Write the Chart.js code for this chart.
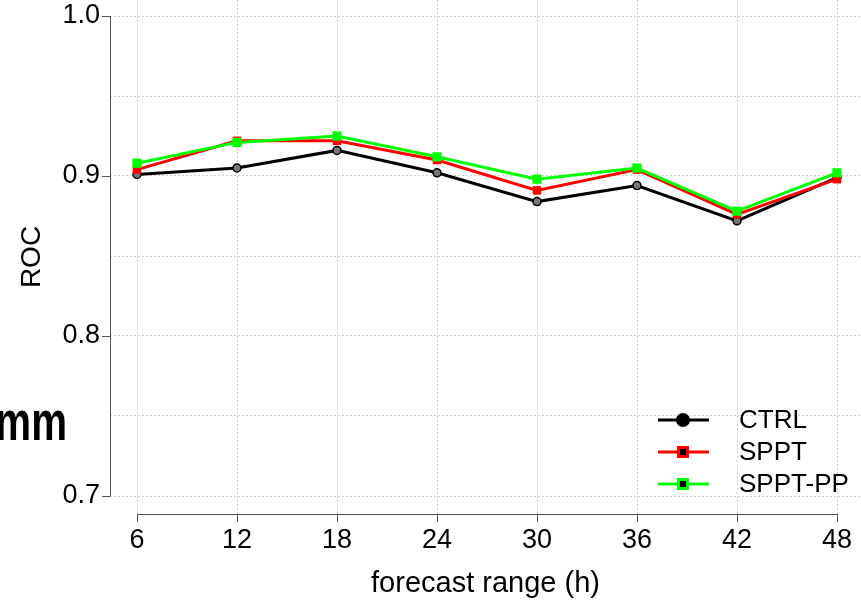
<!DOCTYPE html>
<html>
<head>
<meta charset="utf-8">
<script src="https://cdn.jsdelivr.net/npm/chart.js@4"></script>
<style>
html, body { margin: 0; padding: 0; background: #fff; overflow: hidden; }
canvas { display: block; }
</style>
</head>
<body>
<canvas id="chartRoc" width="861" height="601"></canvas>
<script>
// forecast range (h)
const hours = [6, 12, 18, 24, 30, 36, 42, 48];
const ctrl = [0.901, 0.905, 0.916, 0.902, 0.884, 0.894, 0.872, 0.899];
const sppt = [0.904, 0.922, 0.922, 0.910, 0.891, 0.904, 0.876, 0.898];
const spptPP = [0.908, 0.921, 0.925, 0.912, 0.898, 0.905, 0.878, 0.902];
const yTicks = [0.7, 0.75, 0.8, 0.85, 0.9, 0.95, 1.0];
const yLabelled = [0.7, 0.8, 0.9, 1.0];

const FONT = 'Liberation Sans, Arial, Helvetica, sans-serif';

function pts(vals) {
  return hours.map((h, i) => ({ x: h, y: vals[i] }));
}

// R-style axes: separate axis lines with outward ticks
const rAxes = {
  id: 'rAxes',
  afterDatasetsDraw(chart) {
    const ctx = chart.ctx;
    const xs = chart.scales.x, ys = chart.scales.y;
    ctx.save();
    ctx.strokeStyle = '#555';
    ctx.lineWidth = 1;
    const ax = xs.left;
    const y0 = ys.getPixelForValue(0.7), y1 = ys.getPixelForValue(1.0);
    ctx.beginPath();
    ctx.moveTo(ax + 0.5, y0);
    ctx.lineTo(ax + 0.5, y1);
    yLabelled.forEach(v => {
      const p = Math.round(ys.getPixelForValue(v)) + 0.5;
      ctx.moveTo(ax - 8, p);
      ctx.lineTo(ax + 0.5, p);
    });
    const ay = ys.bottom;
    ctx.moveTo(xs.getPixelForValue(hours[0]), ay + 0.5);
    ctx.lineTo(xs.getPixelForValue(hours[hours.length - 1]), ay + 0.5);
    hours.forEach(h => {
      const p = Math.round(xs.getPixelForValue(h)) + 0.5;
      ctx.moveTo(p, ay);
      ctx.lineTo(p, ay + 8);
    });
    ctx.stroke();
    ctx.restore();
  },
  afterDraw(chart) {
    const ctx = chart.ctx;
    ctx.save();
    // leftover title fragment on the left edge
    ctx.fillStyle = '#000';
    ctx.font = 'bold 56px ' + FONT;
    ctx.textAlign = 'right';
    ctx.textBaseline = 'alphabetic';
    ctx.translate(67, 440);
    ctx.scale(0.72, 1);
    ctx.fillText('mm', 0, 0);
    ctx.restore();

    // legend
    ctx.save();
    const rows = [420, 452, 484];
    chart.data.datasets.forEach((ds, i) => {
      const y = rows[i];
      ctx.strokeStyle = ds.borderColor;
      ctx.lineWidth = 3;
      ctx.beginPath();
      ctx.moveTo(658, y);
      ctx.lineTo(709, y);
      ctx.stroke();
      if (ds.pointStyle === 'circle') {
        ctx.fillStyle = '#000';
        ctx.beginPath();
        ctx.arc(683, y, 7, 0, Math.PI * 2);
        ctx.fill();
      } else {
        ctx.fillStyle = ds.borderColor;
        ctx.fillRect(677, y - 6, 12, 12);
        ctx.fillStyle = '#000';
        ctx.fillRect(680, y - 3, 6, 6);
      }
      ctx.fillStyle = '#000';
      ctx.font = '26px ' + FONT;
      ctx.textAlign = 'left';
      ctx.textBaseline = 'middle';
      ctx.fillText(ds.label, 739, y + 1);
    });
    ctx.restore();
  }
};

new Chart(document.getElementById('chartRoc').getContext('2d'), {
  type: 'line',
  data: {
    datasets: [
      {
        label: 'CTRL', data: pts(ctrl), order: 3,
        borderColor: '#000000', backgroundColor: '#777777',
        borderWidth: 3, pointStyle: 'circle', pointRadius: 4,
        pointBorderColor: '#000000', pointBorderWidth: 1.5
      },
      {
        label: 'SPPT', data: pts(sppt), order: 2,
        borderColor: '#ff0000', backgroundColor: '#ff0000',
        borderWidth: 3, pointStyle: 'rect', pointRadius: 6,
        pointBorderWidth: 0
      },
      {
        label: 'SPPT-PP', data: pts(spptPP), order: 1,
        borderColor: '#00ff00', backgroundColor: '#00ff00',
        borderWidth: 3, pointStyle: 'rect', pointRadius: 6.5,
        pointBorderWidth: 0
      }
    ]
  },
  options: {
    responsive: false,
    animation: false,
    layout: { padding: 0, autoPadding: false },
    elements: { line: { tension: 0 } },
    plugins: { legend: { display: false }, tooltip: { enabled: false } },
    scales: {
      x: {
        type: 'linear',
        min: 4.38,
        max: 49.44,
        afterBuildTicks: s => { s.ticks = hours.map(v => ({ value: v })); },
        afterFit: s => { s.height = 87; s.paddingLeft = 0; s.paddingRight = 0; },
        grid: { color: '#cfcfcf', lineWidth: 1, drawTicks: false },
        border: { display: false, dash: [2, 2] },
        ticks: {
          color: '#000', padding: 10, maxRotation: 0, autoSkip: false,
          font: { family: FONT, size: 27 },
          callback: v => String(v)
        },
        title: {
          display: true, text: 'forecast range (h)', color: '#000',
          font: { family: FONT, size: 29 }, padding: { top: 0, bottom: 0 }
        }
      },
      y: {
        type: 'linear',
        min: 0.68875,
        max: 1.01,
        afterBuildTicks: s => { s.ticks = yTicks.map(v => ({ value: v })); },
        afterFit: s => { s.width = 110; s.paddingTop = 0; s.paddingBottom = 0; },
        grid: { color: '#cfcfcf', lineWidth: 1, drawTicks: false },
        border: { display: false, dash: [2, 2] },
        ticks: {
          color: '#000', padding: 10, autoSkip: false,
          font: { family: FONT, size: 27 },
          callback: v => yLabelled.some(t => Math.abs(t - v) < 1e-6) ? v.toFixed(1) : ''
        },
        title: {
          display: true, text: 'ROC', color: '#000',
          font: { family: FONT, size: 28 }, padding: { top: 15, bottom: 0 }
        }
      }
    }
  },
  plugins: [rAxes]
});
</script>
</body>
</html>
